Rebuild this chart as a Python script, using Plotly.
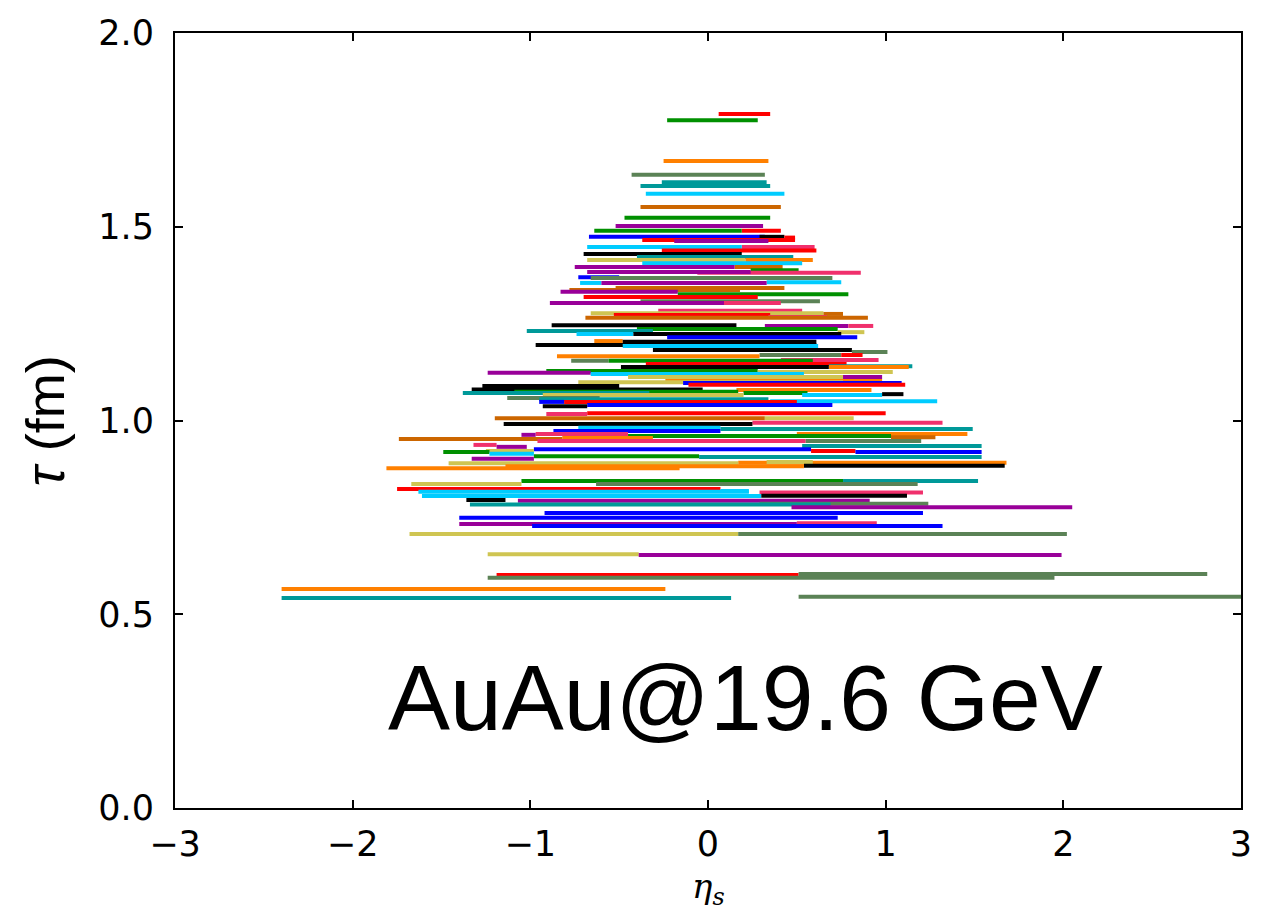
import plotly.graph_objects as go

# Segment data: start/end in eta_s, proper time tau (fm), colour key
eta_start = [0.06, -0.23, -0.25, -0.43, -0.26, -0.38, -0.35, -0.38, -0.47, -0.52,
             0.19, -0.64, -0.67, 0.29, 0.43, -0.37, -0.19, 0.19, -0.68, -0.26,
             -0.70, -0.40, 0.21, -0.68, -0.37, 0.15, -0.75, 0.24, -0.06, -0.68,
             -0.73, -0.66, 0.33, -0.72, -0.60, -0.52, -0.78, -0.83, -0.17, -0.70,
             -0.38, -0.89, 0.09, -0.28, -0.66, 0.65, -0.53, 0.34, -0.69, -0.88,
             0.32, 0.79, -0.40, -1.02, 0.73, -0.74, -0.42, -0.23, -0.64, -0.48,
             -0.97, -0.48, -0.31, 0.81, 0.29, 0.75, -0.85, 0.41, -0.77, -0.56,
             -0.35, 0.68, 0.68, -0.49, -0.91, 0.28, -1.24, -0.66, -0.45, 0.76,
             -0.24, -0.73, -0.14, -0.11, -1.27, -1.33, 0.16, -1.09, 0.20, -1.38,
             0.53, 0.98, -0.93, -1.13, -0.95, 0.35, -0.81, -0.95, -0.68, -0.93,
             -0.68, -0.91, -1.20, 0.32, 0.25, -1.15, -0.73, 0.07, -0.87, 0.50,
             -0.97, -1.05, -0.45, 1.03, -0.82, -1.74, -0.96, 0.55, -1.32, 0.53,
             -1.19, -0.98, -1.25, 0.58, 0.83, -1.49, -1.23, -0.98, -0.05, -1.33,
             0.17, 0.33, -1.46, 0.54, -1.14, -1.81, -1.05, 0.76, -0.63, -1.67,
             -1.75, 0.07, -1.63, 0.29, -1.61, 0.30, -1.36, -1.07, 0.29, -1.34,
             0.47, -0.92, -1.40, 0.50, -1.40, -0.99, -1.68, 0.17, -1.24, -0.39,
             -1.19, 0.51, -1.24, -2.40, -2.40, 0.51]
eta_end = [0.35, 0.28, 0.34, 0.32, 0.33, 0.35, 0.43, 0.41, 0.35, 0.31,
           0.41, 0.19, 0.32, 0.43, 0.49, 0.49, 0.34, 0.60, 0.19, 0.61,
           0.19, 0.48, 0.59, 0.21, 0.53, 0.42, 0.15, 0.51, 0.86, 0.24,
           -0.50, 0.70, 0.75, -0.60, 0.33, 0.43, 0.18, -0.17, 0.79, 0.28,
           0.63, 0.09, 0.41, 0.53, 0.65, 0.76, 0.35, 0.67, 0.90, 0.16,
           0.79, 0.93, 0.73, -0.31, 0.88, -0.42, 0.75, 0.84, -0.48, 0.61,
           0.61, 0.62, 0.81, 1.01, 0.75, 0.87, 0.29, 0.96, -0.56, 0.59,
           0.78, 1.15, 1.13, 0.68, 0.28, 1.04, -0.66, 0.54, 0.76, 0.98,
           0.98, 0.76, 1.09, 1.11, -0.50, -0.03, 0.92, 0.17, 0.56, -0.33,
           0.98, 1.10, 0.20, -0.61, 0.34, 1.29, 0.50, -0.81, 0.70, -0.68,
           1.00, -0.68, 0.32, 0.82, 1.32, 0.25, 0.07, 1.49, 0.07, 1.46,
           -0.45, -0.97, 1.03, 1.28, -0.31, -0.82, 0.55, 1.20, -1.19, 1.54,
           -1.02, 0.58, -0.98, 0.83, 1.54, -1.23, -0.98, -0.05, 1.54, -0.98,
           1.68, 0.59, 0.17, 1.67, 0.54, -0.16, 0.76, 1.52, 1.18, -1.05,
           0.07, 0.23, 0.23, 1.21, 0.30, 1.12, -1.14, 0.91, 1.24, 0.69,
           2.05, 1.21, 0.73, 0.95, 0.50, 1.32, 0.17, 2.02, -0.39, 1.99,
           0.51, 2.81, 1.95, -0.24, 0.13, 3.00]
tau = [1.791, 1.775, 1.670, 1.634, 1.615, 1.605, 1.585, 1.551, 1.523, 1.502,
       1.490, 1.490, 1.474, 1.474, 1.472, 1.466, 1.463, 1.448, 1.448, 1.439,
       1.430, 1.422, 1.414, 1.414, 1.406, 1.396, 1.396, 1.388, 1.381, 1.383,
       1.370, 1.368, 1.357, 1.355, 1.355, 1.342, 1.337, 1.332, 1.326, 1.319,
       1.308, 1.303, 1.303, 1.283, 1.277, 1.275, 1.272, 1.267, 1.265, 1.246,
       1.244, 1.244, 1.236, 1.231, 1.228, 1.223, 1.223, 1.215, 1.205, 1.203,
       1.195, 1.192, 1.182, 1.177, 1.169, 1.169, 1.166, 1.156, 1.154, 1.154,
       1.146, 1.140, 1.138, 1.138, 1.128, 1.125, 1.123, 1.120, 1.112, 1.112,
       1.102, 1.099, 1.097, 1.092, 1.089, 1.080, 1.079, 1.074, 1.071, 1.071,
       1.066, 1.068, 1.066, 1.058, 1.055, 1.050, 1.048, 1.048, 1.040, 1.037,
       1.019, 1.017, 1.006, 1.006, 0.994, 0.991, 0.981, 0.978, 0.973, 0.965,
       0.965, 0.963, 0.960, 0.957, 0.955, 0.952, 0.947, 0.947, 0.937, 0.934,
       0.932, 0.926, 0.921, 0.921, 0.919, 0.919, 0.914, 0.908, 0.906, 0.901,
       0.891, 0.893, 0.890, 0.883, 0.882, 0.877, 0.844, 0.844, 0.836, 0.836,
       0.823, 0.818, 0.816, 0.814, 0.805, 0.806, 0.795, 0.793, 0.785, 0.783,
       0.776, 0.761, 0.749, 0.735, 0.733, 0.728, 0.707, 0.707, 0.655, 0.653,
       0.601, 0.604, 0.594, 0.565, 0.542, 0.545]
color_key = ["R", "G", "O", "GG", "T", "T", "C", "BR", "G", "P",
             "R", "G", "B", "K", "R", "R", "P", "PK", "C", "R",
             "K", "T", "O", "Y", "C", "BR", "P", "G", "PK", "P",
             "B", "GG", "C", "C", "P", "BR", "BR", "P", "G", "R",
             "GG", "P", "PK", "PK", "Y", "BR", "R", "PK", "BR", "K",
             "P", "PK", "G", "T", "Y", "C", "K", "B", "O", "K",
             "K", "C", "K", "GG", "GG", "R", "O", "PK", "GG", "G",
             "R", "T", "O", "K", "G", "Y", "P", "C", "Y", "P",
             "O", "Y", "B", "R", "K", "K", "O", "G", "G", "T",
             "C", "K", "Y", "GG", "T", "C", "R", "B", "B", "K",
             "R", "PK", "BR", "Y", "PK", "K", "C", "T", "B", "O",
             "PK", "P", "G", "BR", "O", "BR", "PK", "GG", "PK", "T",
             "P", "B", "Y", "R", "B", "G", "C", "G", "T", "P",
             "O", "Y", "Y", "K", "O", "O", "G", "T", "GG", "Y",
             "R", "C", "C", "PK", "C", "K", "K", "P", "GG", "T",
             "P", "B", "B", "PK", "P", "B", "Y", "GG", "Y", "P",
             "R", "GG", "GG", "O", "T", "GG"]

palette = {"R": "#FF0000", "G": "#009000", "B": "#0000FF", "K": "#000000",
           "O": "#FF8000", "T": "#009999", "C": "#00CCFF", "P": "#990099",
           "BR": "#CC6600", "Y": "#CFC552", "GG": "#5B8256", "PK": "#F0306C"}

x_ticks = [-3, -2, -1, 0, 1, 2, 3]
y_ticks = [0.0, 0.5, 1.0, 1.5, 2.0]

fig = go.Figure()
for x0, x1, t, c in zip(eta_start, eta_end, tau, color_key):
    fig.add_trace(go.Scatter(x=[x0, x1], y=[t, t], mode="lines",
                             line=dict(color=palette[c], width=4),
                             showlegend=False, hoverinfo="skip"))

axis_common = dict(showline=True, linecolor="black", linewidth=2, mirror="ticks",
                   ticks="inside", ticklen=8, tickwidth=1.5, tickcolor="black",
                   showgrid=False, zeroline=False,
                   tickfont=dict(family="DejaVu Sans", size=35, color="black"))

fig.update_xaxes(range=[-3, 3], tickvals=x_ticks, ticklabelstandoff=4, **axis_common)
fig.update_yaxes(range=[0, 2], tickvals=y_ticks, tickformat=".1f",
                 ticklabelstandoff=12, **axis_common)

fig.add_annotation(x=0.21, y=0.284, xref="x", yref="y", text="AuAu@19.6 GeV",
                   showarrow=False, xanchor="center", yanchor="middle",
                   font=dict(family="Liberation Sans", size=93, color="black"))
fig.add_annotation(x=-0.122, y=0.5, xref="paper", yref="paper",
                   text="<i>τ</i> (fm)", textangle=-90, showarrow=False,
                   xanchor="center", yanchor="middle",
                   font=dict(family="Liberation Sans", size=54, color="black"))
fig.add_annotation(x=0.5, y=-0.104, xref="paper", yref="paper",
                   text="<i>η<sub>s</sub></i>", showarrow=False,
                   xanchor="center", yanchor="middle",
                   font=dict(family="DejaVu Serif", size=34, color="black"))

fig.update_layout(width=1282, height=911, plot_bgcolor="white", paper_bgcolor="white",
                  margin=dict(l=175, r=41, t=33, b=103))

fig.write_html("out.html")
